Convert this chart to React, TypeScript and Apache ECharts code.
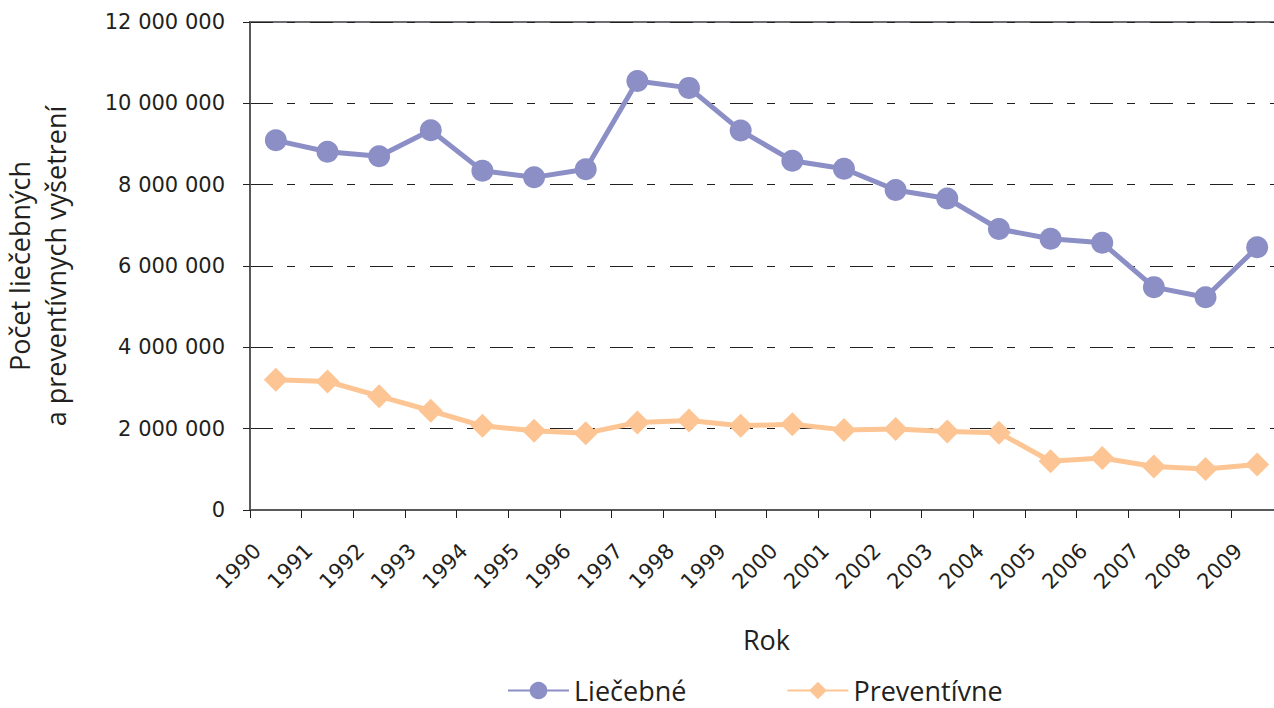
import React, { useEffect, useRef } from "react";
import * as echarts from "echarts";

const years = ["1990","1991","1992","1993","1994","1995","1996","1997","1998","1999","2000","2001","2002","2003","2004","2005","2006","2007","2008","2009"];
const liecebne = [9090000, 8810000, 8700000, 9340000, 8340000, 8180000, 8380000, 10550000, 10380000, 9330000, 8590000, 8390000, 7870000, 7660000, 6910000, 6670000, 6570000, 5480000, 5230000, 6460000];
const preventivne = [3200000, 3160000, 2800000, 2440000, 2070000, 1950000, 1890000, 2150000, 2200000, 2070000, 2110000, 1970000, 1990000, 1930000, 1900000, 1200000, 1280000, 1070000, 1010000, 1120000];
const tickLabels = [...years, ""];

const numFont = "DejaVu Sans";
const txtFont = "Open Sans";
const txtColor = "#231f20";

function fmt(v: number): string {
  return String(Math.round(v)).replace(/\B(?=(\d{3})+(?!\d))/g, " ");
}

export default function App() {
  const ref = useRef<HTMLDivElement>(null);
  useEffect(() => {
    if (!ref.current) return;
    const chart = echarts.init(ref.current, undefined, { renderer: "svg" });
    chart.setOption({
      animation: false,
      backgroundColor: "#ffffff",
      grid: {
        left: 250,
        right: 17,
        top: 22,
        bottom: 198,
        outerBoundsMode: "none",
        containLabel: false,
        show: true,
        borderColor: "#6d6e71",
        borderWidth: 2,
        backgroundColor: "transparent",
      },
      legend: {
        left: 507,
        top: 677,
        padding: 0,
        itemWidth: 61,
        itemHeight: 22,
        itemGap: 100,
        textStyle: { fontFamily: txtFont, fontSize: 27, color: txtColor },
        data: ["Liečebné", "Preventívne"],
      },
      xAxis: [
        {
          type: "category",
          data: years,
          boundaryGap: true,
          position: "bottom",
          axisLine: { show: false },
          axisTick: { show: false },
          axisLabel: { show: false },
          splitLine: { show: false },
        },
        {
          type: "category",
          data: tickLabels,
          boundaryGap: false,
          position: "bottom",
          name: "Rok",
          nameLocation: "middle",
          nameGap: 116,
          nameTextStyle: { fontFamily: txtFont, fontSize: 27, color: txtColor },
          axisLine: { show: true, lineStyle: { color: "#58595b", width: 2 } },
          axisTick: { show: true, length: 8, interval: 0, lineStyle: { color: "#231f20", width: 1 } },
          axisLabel: {
            interval: 0,
            rotate: 45,
            margin: 30,
            verticalAlign: "top",
            fontFamily: numFont,
            fontSize: 21,
            color: txtColor,
          },
          splitLine: { show: false },
        },
      ],
      yAxis: {
        type: "value",
        min: 0,
        max: 12000000,
        interval: 2000000,
        name: "Počet liečebných\na preventívnych vyšetrení",
        nameLocation: "middle",
        nameGap: 177,
        nameTextStyle: { fontFamily: txtFont, fontSize: 27, color: txtColor, lineHeight: 36 },
        axisLine: { show: true, lineStyle: { color: "#58595b", width: 2 } },
        axisTick: { show: true, length: 7, lineStyle: { color: "#231f20", width: 1 } },
        axisLabel: {
          margin: 25,
          fontFamily: numFont,
          fontSize: 21,
          color: txtColor,
          formatter: (v: number) => fmt(v),
        },
        splitLine: {
          show: true,
          lineStyle: { color: "#231f20", width: 1, type: [23, 14, 8, 15] },
        },
      },
      series: [
        {
          name: "Liečebné",
          type: "line",
          xAxisIndex: 0,
          data: liecebne,
          symbol: "circle",
          symbolSize: 22,
          itemStyle: { color: "#8b8fc6" },
          lineStyle: { color: "#8b8fc6", width: 5 },
        },
        {
          name: "Preventívne",
          type: "line",
          xAxisIndex: 0,
          data: preventivne,
          symbol: "diamond",
          symbolSize: 24,
          itemStyle: { color: "#fdc593" },
          lineStyle: { color: "#fdc593", width: 5 },
        },
      ],
    });
    return () => chart.dispose();
  }, []);
  return (
    <div style={{ position: "fixed", left: 0, top: 0, width: 1274, height: 708, overflow: "hidden", background: "#fff" }}>
      <div ref={ref} style={{ width: 1300, height: 708 }} />
    </div>
  );
}
